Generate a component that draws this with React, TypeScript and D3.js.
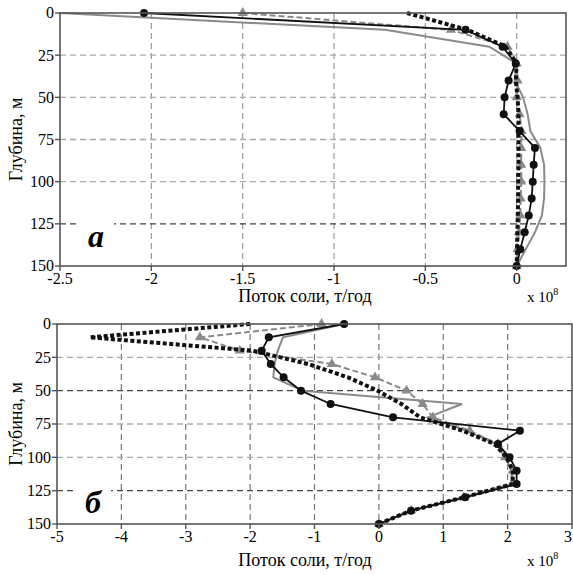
import React from 'react';
import * as d3 from 'd3';

// depth levels, m
const depths = [0, 10, 20, 30, 40, 50, 60, 70, 80, 90, 100, 110, 120, 130, 140, 150];

// panel "а", x 10^8 t/year
const aBlackCircle = [-2.04, -0.28, -0.077, -0.005, -0.044, -0.066, -0.071, 0.016, 0.1, 0.093, 0.088, 0.082, 0.066, 0.044, 0.02, 0];
const aBlackDotted = [-0.6, -0.27, -0.06, 0, -0.005, 0.005, 0.01, 0.01, 0.01, 0.01, 0.008, 0.008, 0.006, 0.004, 0.002, 0];
const aGrayTriangle = [-1.5, -0.36, -0.05, 0, 0.005, 0, 0.016, 0.027, 0.025, 0.025, 0.025, 0.022, 0.02, 0.012, 0.005, 0];
const aGraySolid = [-2.5, -0.72, -0.15, 0, -0.01, 0.035, 0.06, 0.075, 0.13, 0.15, 0.152, 0.15, 0.138, 0.1, 0.05, 0];

// panel "б"
const bBlackCircle = [-0.54, -1.71, -1.82, -1.68, -1.48, -1.21, -0.75, 0.22, 2.19, 1.85, 2.03, 2.14, 2.14, 1.34, 0.5, 0];
const bBlackDotted = [-2.0, -4.49, -1.96, -1.1, -0.48, -0.02, 0.35, 0.64, 1.3, 1.8, 1.98, 2.08, 2.08, 1.32, 0.5, 0];
const bGrayTriangle = [-0.89, -2.78, -2.16, -0.73, -0.06, 0.43, 0.68, 0.84, 1.41, 1.85, 1.96, 2.08, 2.07, 1.32, 0.5, 0];
const bGraySolid = [-0.54, -1.49, -1.57, -1.62, -1.64, -1.18, 1.29, 0.76, 1.35, 1.82, 1.97, 2.06, 2.06, 1.33, 0.5, 0];

const depthTicks = [0, 25, 50, 75, 100, 125, 150];
const aFluxTicks = [-2.5, -2, -1.5, -1, -0.5, 0];
const bFluxTicks = [-5, -4, -3, -2, -1, 0, 1, 2, 3];

const xTitle = 'Поток соли, т/год';
const yTitle = 'Глубина, м';

const serif = '"Liberation Serif", "DejaVu Serif", serif';

type Props = {
  xDomain: [number, number];
  xRange: [number, number];
  yRange: [number, number];
  xTicks: number[];
  blackCircle: number[];
  blackDotted: number[];
  grayTriangle: number[];
  graySolid: number[];
  letter: string;
  letterBaseline: number;
  darkRows: number[];
  vGridColor: string;
  titleY: number;
};

const Panel = (p: Props) => {
  const x = d3.scaleLinear(p.xDomain, p.xRange);
  const y = d3.scaleLinear([0, 150], p.yRange);
  const line = d3.line<number>((d) => x(d), (d, i) => y(depths[i]));
  const [x0, x1] = p.xRange;
  const [y0, y1] = p.yRange;
  const tri = d3.symbol(d3.symbolTriangle, 45)();
  const frame = '#555';

  return (
    <g>
      {/* grid */}
      {p.xTicks.slice(1).filter((t) => x(t) < x1 - 2).map((t) => (
        <line key={'v' + t} x1={x(t)} x2={x(t)} y1={y0} y2={y1} stroke={p.vGridColor} strokeWidth={1.2} strokeDasharray="6 4" />
      ))}
      {depthTicks.slice(1, -1).map((t) => (
        <line key={'h' + t} x1={x0} x2={x1} y1={y(t)} y2={y(t)}
          stroke={p.darkRows.includes(t) ? '#444' : '#aaa'} strokeWidth={1.4} strokeDasharray="6 4" />
      ))}
      {/* letter with white patch */}
      <rect x={x0 + 17} y={y(125) - 4} width={37} height={8} fill="#fff" />
      <text x={x0 + 36} y={p.letterBaseline} textAnchor="middle" fontFamily={serif} fontWeight="bold" fontStyle="italic" fontSize={32}>{p.letter}</text>

      {/* series */}
      <path d={line(p.graySolid) ?? ''} fill="none" stroke="#8a8a8a" strokeWidth={2} />
      <path d={line(p.grayTriangle) ?? ''} fill="none" stroke="#8a8a8a" strokeWidth={2} strokeDasharray="6 3" />
      {p.grayTriangle.map((d, i) => (
        <path key={'t' + i} d={tri} transform={`translate(${x(d)},${y(depths[i])})`} fill="#8a8a8a" />
      ))}
      <path d={line(p.blackDotted) ?? ''} fill="none" stroke="#111" strokeWidth={4} strokeDasharray="4 2.5" />
      <path d={line(p.blackCircle) ?? ''} fill="none" stroke="#111" strokeWidth={1.8} />
      {p.blackCircle.map((d, i) => (
        <circle key={'c' + i} cx={x(d)} cy={y(depths[i])} r={4} fill="#111" />
      ))}

      {/* frame */}
      <rect x={x0} y={y0} width={x1 - x0} height={y1 - y0} fill="none" stroke={frame} strokeWidth={1.6} />

      {/* y axis ticks */}
      {depthTicks.map((t) => (
        <g key={'yt' + t}>
          <line x1={x0 - 5} x2={x0} y1={y(t)} y2={y(t)} stroke={frame} strokeWidth={1.4} />
          <text x={x0 - 6} y={y(t)} dy="0.34em" textAnchor="end" fontFamily={serif} fontSize={16}>{t}</text>
        </g>
      ))}
      {/* x axis ticks */}
      {p.xTicks.map((t) => (
        <g key={'xt' + t}>
          <line x1={x(t)} x2={x(t)} y1={y1} y2={y1 + 5} stroke={frame} strokeWidth={1.4} />
          <text x={Math.min(x(t), 568)} y={y1 + 18} textAnchor="middle" fontFamily={serif} fontSize={16}>{t}</text>
        </g>
      ))}

      <text x={305} y={p.titleY} textAnchor="middle" fontFamily={serif} fontSize={18}>{xTitle}</text>
      <text x={527} y={p.titleY} fontFamily={serif} fontSize={15}>
        x 10<tspan dy={-7} fontSize={10}>8</tspan>
      </text>
      <text transform={`translate(22,${(y0 + y1) / 2}) rotate(-90)`} textAnchor="middle" fontFamily={serif} fontSize={18}>{yTitle}</text>
    </g>
  );
};

export default function App() {
  return (
    <svg width={573} height={575} style={{ position: 'absolute', left: 0, top: 0, background: '#fff' }}>
      <Panel
        xDomain={[-2.5, 0.27]} xRange={[60, 566]} yRange={[13, 266]} xTicks={aFluxTicks}
        blackCircle={aBlackCircle} blackDotted={aBlackDotted} grayTriangle={aGrayTriangle} graySolid={aGraySolid}
        letter="а" letterBaseline={247} darkRows={[125]} vGridColor="#999" titleY={302}
      />
      <Panel
        xDomain={[-5, 3]} xRange={[57, 572]} yRange={[324, 524]} xTicks={bFluxTicks}
        blackCircle={bBlackCircle} blackDotted={bBlackDotted} grayTriangle={bGrayTriangle} graySolid={bGraySolid}
        letter="б" letterBaseline={513} darkRows={[50, 125]} vGridColor="#777" titleY={566}
      />
    </svg>
  );
}
